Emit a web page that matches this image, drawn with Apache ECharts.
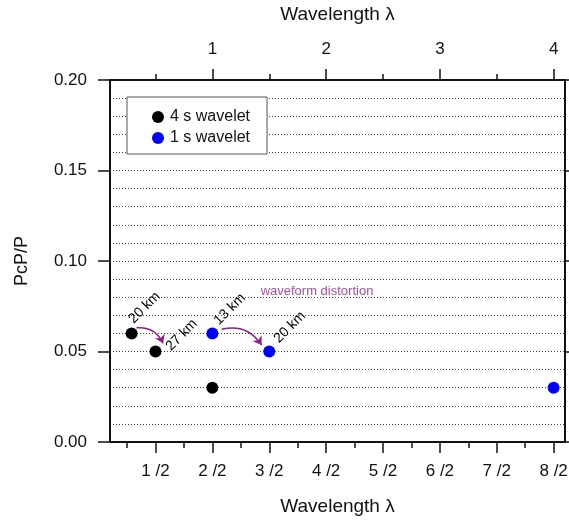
<!DOCTYPE html>
<html><head><meta charset="utf-8">
<script src="https://cdn.jsdelivr.net/npm/echarts@6/dist/echarts.min.js"></script>
<style>html,body{margin:0;padding:0;background:#fff}#c{width:569px;height:522px}</style>
</head><body><div id="c"></div>
<script>
// ---- data ----
const seriesNames = ['4 s wavelet', '1 s wavelet'];
const wavelet4sX = [0.29, 0.5, 1.0];
const wavelet4sY = [0.06, 0.05, 0.03];
const wavelet4sLabels = ['20 km', '27 km', ''];
const wavelet1sX = [1.0, 1.5, 4.0];
const wavelet1sY = [0.06, 0.05, 0.03];
const wavelet1sLabels = ['13 km', '20 km', ''];
const bottomTickValues = [0.5, 1, 1.5, 2, 2.5, 3, 3.5, 4];
const bottomTickLabels = ['1 /2', '2 /2', '3 /2', '4 /2', '5 /2', '6 /2', '7 /2', '8 /2'];
const bottomMinorTicks = [0.25, 0.75, 1.25, 1.75, 2.25, 2.75, 3.25, 3.75];
const topTickValues = [1, 2, 3, 4];
const topTickLabels = ['1', '2', '3', '4'];
const topMinorTicks = [0.5, 1.5, 2.5, 3.5];
const yTickLabels = ['0.00', '0.05', '0.10', '0.15', '0.20'];
const annotationText = 'waveform distortion';
const annotationAt = [1.42, 0.083];
const arrowFrom = [[0.333, 0.0631], [1.081, 0.0623]];
const arrowTo = [[0.567, 0.0545], [1.433, 0.0536]];

// ---- styles ----
const FONT = '"Liberation Sans", Arial, Helvetica, sans-serif';
const PURPLE = '#8b1f8b';
const X_MIN = 0.1, X_MAX = 4.1;
const lineCol = '#111';
const labelOffsets4s = [[4.3, -7.3], [17.6, 2], [0, 0]];
const labelOffsets1s = [[8.9, -5.6], [12, -5.7], [0, 0]];
const SYM = 12;

function pickLabel(vals, labs, v) {
  for (let i = 0; i < vals.length; i++) if (Math.abs(vals[i] - v) < 1e-6) return labs[i];
  return '';
}
function pointData(xs, ys, labels, offs) {
  return xs.map((x, i) => ({
    value: [x, ys[i]],
    label: labels[i] ? {
      show: true, formatter: labels[i], rotate: 45, align: 'left', verticalAlign: 'bottom',
      position: [SYM / 2 + offs[i][0], SYM / 2 + offs[i][1]],
      fontSize: 14, color: '#000', fontFamily: FONT
    } : { show: false }
  }));
}
const tickStyle = { color: lineCol, width: 1.5 };
const axisLineStyle = { show: true, lineStyle: { color: lineCol, width: 2 } };
const tickFont = { fontSize: 17, color: '#111', fontFamily: FONT };
const nameFont = { fontSize: 19, color: '#111', fontFamily: FONT };

const chart = echarts.init(document.getElementById('c'), null, { renderer: 'canvas' });
chart.setOption({
  animation: false,
  backgroundColor: '#fff',
  textStyle: { fontFamily: FONT },
  grid: { left: 110, right: 4, top: 80, bottom: 80, containLabel: false, outerBoundsMode: 'none' },
  legend: {
    data: seriesNames, orient: 'vertical', left: 127, top: 97,
    padding: [12, 17, 8, 25], itemGap: 5, itemWidth: 14, itemHeight: 12,
    backgroundColor: '#fff', borderColor: '#555', borderWidth: 1, borderRadius: 0,
    textStyle: { fontSize: 16, color: '#111', fontFamily: FONT },
    icon: 'circle'
  },
  xAxis: [
    { type: 'value', position: 'bottom', min: X_MIN, max: X_MAX,
      axisLine: axisLineStyle, splitLine: { show: false },
      axisTick: { show: true, customValues: bottomTickValues, length: 11, lineStyle: tickStyle },
      axisLabel: Object.assign({ show: true, customValues: bottomTickValues, margin: 21,
        formatter: v => pickLabel(bottomTickValues, bottomTickLabels, v) }, tickFont),
      name: 'Wavelength λ', nameLocation: 'middle', nameGap: 55, nameTextStyle: nameFont },
    { type: 'value', position: 'bottom', min: X_MIN, max: X_MAX,
      axisLine: { show: false }, splitLine: { show: false },
      axisTick: { show: true, customValues: bottomMinorTicks, length: 6, lineStyle: tickStyle },
      axisLabel: { show: false } },
    { type: 'value', position: 'top', min: X_MIN, max: X_MAX,
      axisLine: axisLineStyle, splitLine: { show: false },
      axisTick: { show: true, customValues: topTickValues, length: 11, lineStyle: tickStyle },
      axisLabel: Object.assign({ show: true, customValues: topTickValues, margin: 22,
        formatter: v => pickLabel(topTickValues, topTickLabels, v) }, tickFont),
      name: 'Wavelength λ', nameLocation: 'middle', nameGap: 56, nameTextStyle: nameFont },
    { type: 'value', position: 'top', min: X_MIN, max: X_MAX,
      axisLine: { show: false }, splitLine: { show: false },
      axisTick: { show: true, customValues: topMinorTicks, length: 6, lineStyle: tickStyle },
      axisLabel: { show: false } }
  ],
  yAxis: [
    { type: 'value', position: 'left', min: 0, max: 0.2, interval: 0.05,
      axisLine: axisLineStyle,
      axisTick: { show: true, length: 12, lineStyle: tickStyle },
      axisLabel: Object.assign({ margin: 23,
        formatter: (v) => yTickLabels[Math.round(v / 0.05)] }, tickFont),
      splitLine: { show: true, lineStyle: { color: '#444', width: 1, type: [1, 2] } },
      minorTick: { show: false, splitNumber: 5 },
      minorSplitLine: { show: true, lineStyle: { color: '#444', width: 1, type: [1, 2] } },
      name: 'PcP/P', nameLocation: 'middle', nameGap: 79, nameRotate: 90,
      nameTextStyle: { fontSize: 18, color: '#111', fontFamily: FONT } },
    { type: 'value', position: 'right', min: 0, max: 0.2, interval: 0.05,
      axisLine: axisLineStyle,
      axisTick: { show: true, length: 8, lineStyle: tickStyle },
      axisLabel: { show: false }, splitLine: { show: false } }
  ],
  series: [
    { name: seriesNames[0], type: 'scatter', xAxisIndex: 0, yAxisIndex: 0,
      symbol: 'circle', symbolSize: SYM, itemStyle: { color: '#000', opacity: 1 }, z: 5,
      data: pointData(wavelet4sX, wavelet4sY, wavelet4sLabels, labelOffsets4s) },
    { name: seriesNames[1], type: 'scatter', xAxisIndex: 0, yAxisIndex: 0,
      symbol: 'circle', symbolSize: SYM, itemStyle: { color: '#0000ff', opacity: 1 }, z: 5,
      data: pointData(wavelet1sX, wavelet1sY, wavelet1sLabels, labelOffsets1s) },
    { name: 'arrows', type: 'lines', coordinateSystem: 'cartesian2d', xAxisIndex: 0, yAxisIndex: 0,
      symbol: ['none', 'arrow'], symbolSize: 8, silent: true, z: 4,
      lineStyle: { color: PURPLE, width: 1.5, curveness: 0.35, opacity: 1 },
      data: arrowFrom.map((f, i) => ({ coords: [f, arrowTo[i]] })) },
    { name: 'note', type: 'scatter', xAxisIndex: 0, yAxisIndex: 0, silent: true,
      symbolSize: 1, itemStyle: { color: 'rgba(0,0,0,0)' }, z: 6,
      label: { show: true, position: 'right', distance: 0, formatter: annotationText,
        fontSize: 13, color: PURPLE, fontFamily: FONT },
      data: [annotationAt] }
  ]
});
</script>
</body></html>
